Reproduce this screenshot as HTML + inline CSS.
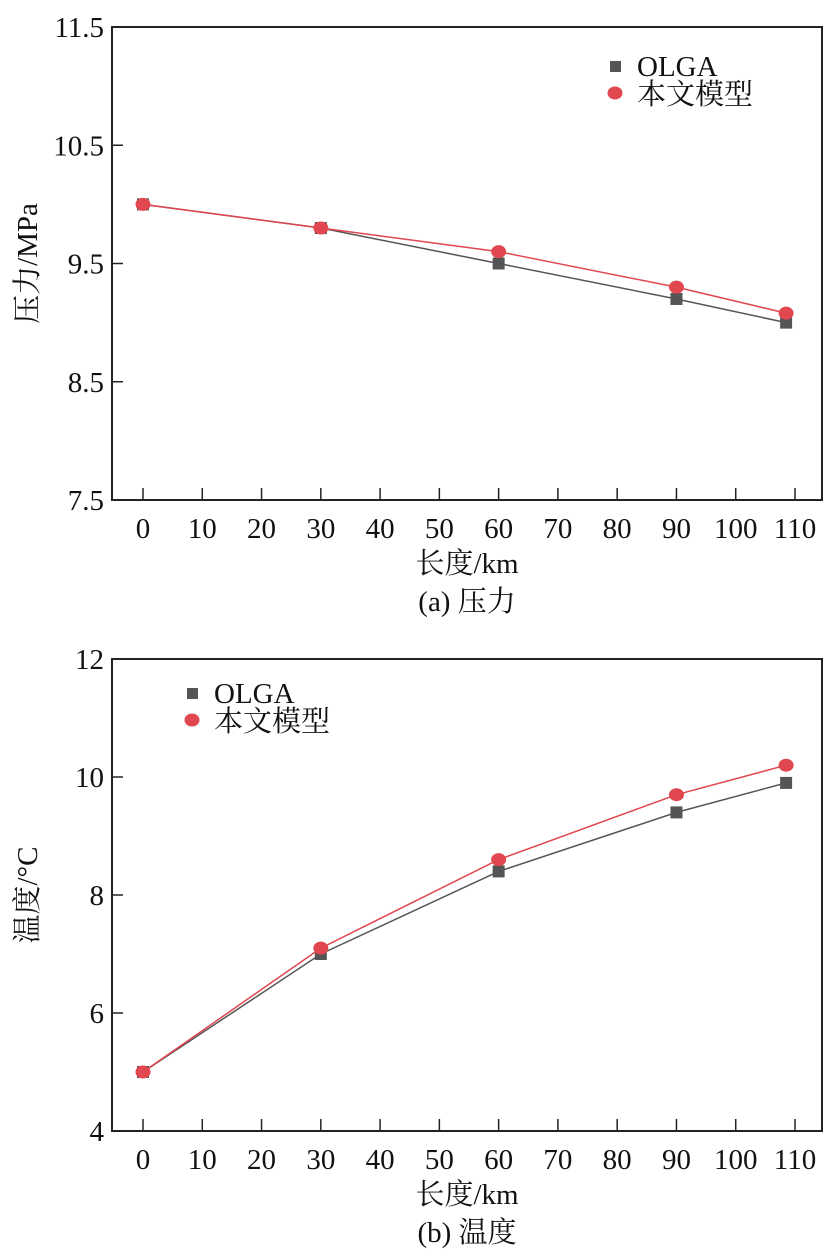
<!DOCTYPE html>
<html><head><meta charset="utf-8"><style>
body{margin:0;background:#fff;}
svg{display:block;font-family:"Liberation Serif","Noto Serif CJK SC",serif;}
</style></head><body>
<svg id="s" width="837" height="1258"></svg>
<script>
const xTicks=[0,10,20,30,40,50,60,70,80,90,100,110];
const xCats=[0,30,60,90,108.5];
const pOlga=[10.0,9.8,9.5,9.2,9.0];
const pModel=[10.0,9.8,9.6,9.3,9.08];
const pTicks=[7.5,8.5,9.5,10.5,11.5];
const tOlga=[5.0,7.0,8.4,9.4,9.9];
const tModel=[5.0,7.1,8.6,9.7,10.2];
const tTicks=[4,6,8,10,12];
const NS="http://www.w3.org/2000/svg";
const svg=document.getElementById('s');
function mk(tag,attrs,parent,text){const e=document.createElementNS(NS,tag);for(const k in attrs)e.setAttribute(k,attrs[k]);if(text!==undefined)e.textContent=text;(parent||svg).appendChild(e);return e;}
function chart(top,bottom,yMin,yMax,yTicks,olga,model,legX,legY,yTitle,caption,key){
  const L=112,R=822;
  const g=mk('g',{});
  
  
  const xs=v=>143+v*(795-143)/110;
  const ys=v=>bottom-(v-yMin)*(bottom-top)/(yMax-yMin);
  const box=mk('rect',{x:L,y:top,width:R-L,height:bottom-top,fill:'none',stroke:'#222','stroke-width':2},g);
  
  
  xTicks.forEach(t=>{
    mk('line',{x1:xs(t),x2:xs(t),y1:bottom,y2:bottom-12,stroke:'#222','stroke-width':1.5},g);
    const tx=mk('text',{x:xs(t),y:bottom+38,'font-size':29,'text-anchor':'middle',fill:'#111'},g,t);
    
    
  });
  yTicks.forEach(t=>{
    mk('line',{x1:L,x2:L+11,y1:ys(t),y2:ys(t),stroke:'#222','stroke-width':1.5},g);
    const tx=mk('text',{x:L-8,y:ys(t)+10,'font-size':29,'text-anchor':'end',fill:'#111'},g,t);
    
    
  });
  const xt=mk('text',{x:467,y:bottom+73,'font-size':29,'text-anchor':'middle',fill:'#111'},g,'长度/km');
  
  
  const cy=(top+bottom)/2;
  const yt=mk('text',{x:0,y:0,'font-size':29,'text-anchor':'middle',fill:'#111',transform:`translate(37,${cy}) rotate(-90)`},g,yTitle);
  
  
  const cp=mk('text',{x:467,y:bottom+111,'font-size':29,'text-anchor':'middle',fill:'#111'},g,caption);
  
  
  const l1=mk('polyline',{points:xCats.map((c,i)=>xs(c)+','+ys(olga[i])).join(' '),fill:'none',stroke:'#555','stroke-width':1.5},g);
  
  
  const l2=mk('polyline',{points:xCats.map((c,i)=>xs(c)+','+ys(model[i])).join(' '),fill:'none',stroke:'#e0474f','stroke-width':1.5},g);
  
  
  xCats.forEach((c,i)=>{
    const r=mk('rect',{x:xs(c)-6,y:ys(olga[i])-6,width:12,height:12,fill:'#555'},g);
    
    
  });
  xCats.forEach((c,i)=>{
    const e=mk('ellipse',{cx:xs(c),cy:ys(model[i]),rx:7.5,ry:6.5,fill:'#e0474f'},g);
    
    
  });
  const lg=mk('g',{},g);
  
  
  mk('rect',{x:legX-5,y:legY-5,width:11,height:11,fill:'#555'},lg);
  const a=mk('text',{x:legX+22,y:legY+10,'font-size':29,fill:'#111'},lg,'OLGA');
  
  
  mk('ellipse',{cx:legX,cy:legY+27,rx:7.5,ry:6.5,fill:'#e0474f'},lg);
  const b=mk('text',{x:legX+22,y:legY+38,'font-size':29,fill:'#111'},lg,'本文模型');
  
  
}
chart(27,500,7.5,11.5,pTicks,pOlga,pModel,615,66,'压力/MPa','(a) 压力','pressure');
chart(659,1131,4,12,tTicks,tOlga,tModel,192,693,'温度/°C','(b) 温度','temperature');
</script>
</body></html>
